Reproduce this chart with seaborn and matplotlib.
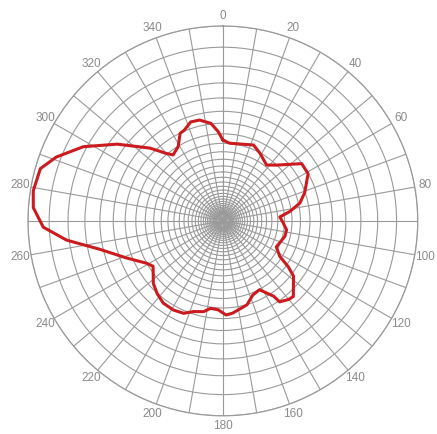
import numpy as np
import pandas as pd
import seaborn as sns
from matplotlib import pyplot as plt

# angle in degrees (clockwise from north) and normalized amplitude
angle_deg = [0, 5, 22, 29, 38, 44, 54, 61, 71, 77, 82, 86, 92, 98, 104, 116, 122, 125,
             128, 137, 140, 145, 146, 152, 158, 164, 174, 178, 183, 188, 192, 198, 203,
             209, 216, 222, 228, 237, 241, 249, 257, 263, 268, 274, 279, 286, 291, 298,
             306, 315, 320, 323, 329, 334, 337, 342, 347, 353, 357]
amplitude = [0.415, 0.40, 0.42, 0.395, 0.364, 0.398, 0.50, 0.50, 0.444, 0.405, 0.347,
             0.293, 0.31, 0.33, 0.328, 0.305, 0.345, 0.409, 0.46, 0.53, 0.526, 0.507,
             0.466, 0.40, 0.41, 0.448, 0.476, 0.483, 0.457, 0.453, 0.476, 0.489, 0.515,
             0.523, 0.521, 0.503, 0.48, 0.427, 0.448, 0.53, 0.648, 0.808, 0.922, 0.975,
             0.985, 0.974, 0.915, 0.811, 0.67, 0.528, 0.452, 0.424, 0.445, 0.50, 0.506,
             0.534, 0.531, 0.504, 0.459]

# rings every 1 dB, angle labels every 20 degrees
ring_db = np.arange(0, -31, -1)
label_step = 20

sns.set_style("white")
plt.rcParams['font.family'] = ['Liberation Sans', 'DejaVu Sans']

# close the loop (last row repeats the first angle, so no aggregation)
df = pd.DataFrame({"theta": np.deg2rad(angle_deg + [360]),
                   "r": amplitude + amplitude[:1]})

fig = plt.figure(figsize=(4.37, 4.34), dpi=100)
ax = fig.add_axes([0.064, 0.0415, 0.892, 0.899], projection='polar')
ax.set_theta_zero_location('N')
ax.set_theta_direction(-1)

sns.lineplot(data=df, x="theta", y="r", sort=False, estimator=None, ax=ax,
             color='#cc1b1f', linewidth=2.2, zorder=5)

ax.set_ylim(0, 1)
ax.set_rgrids(10 ** (ring_db / 20.0), labels=[''] * len(ring_db))
ticks = np.arange(0, 360, 10)
ax.set_thetagrids(ticks, labels=[str(t) if t % label_step == 0 else '' for t in ticks],
                  color='#8a8a8a', fontsize=8.5)
ax.tick_params(axis='x', pad=-3)
ax.grid(True, color='#9a9a9a', linewidth=0.8)
ax.spines['polar'].set_color('#9a9a9a')
ax.spines['polar'].set_linewidth(0.9)
ax.set_xlabel('')
ax.set_ylabel('')

plt.savefig("out.png", dpi=100)
plt.close()
